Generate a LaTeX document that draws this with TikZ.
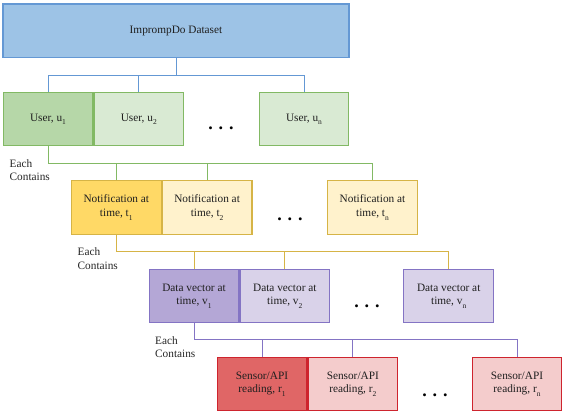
\documentclass[tikz,border=0pt]{standalone}
\usepackage{fontspec}
\setmainfont{Liberation Serif}
\usetikzlibrary{positioning}
\definecolor{topfill}{RGB}{157,195,230}
\definecolor{topline}{RGB}{100,152,212}
\definecolor{userdark}{RGB}{182,215,168}
\definecolor{userlight}{RGB}{217,234,211}
\definecolor{userline}{RGB}{130,185,100}
\definecolor{notidark}{RGB}{255,217,102}
\definecolor{notilight}{RGB}{255,242,204}
\definecolor{notiline}{RGB}{214,180,70}
\definecolor{datadark}{RGB}{180,167,214}
\definecolor{datalight}{RGB}{217,210,233}
\definecolor{dataline}{RGB}{132,116,196}
\definecolor{sensdark}{RGB}{224,102,102}
\definecolor{senslight}{RGB}{244,204,204}
\definecolor{sensline}{RGB}{206,36,46}
\tikzset{
  box/.style={draw, line width=1.1pt, minimum width=89.7pt, minimum height=53.5pt,
    inner sep=1pt, align=center, text=black!88, font=\fontsize{11.3}{13.7}\selectfont},
  userbox/.style={box, draw=userline, fill=userlight},
  notibox/.style={box, draw=notiline, fill=notilight},
  databox/.style={box, draw=dataline, fill=datalight},
  sensbox/.style={box, draw=sensline, fill=senslight},
  link/.style={line width=1pt},
  eachlbl/.style={anchor=west, align=left, inner sep=0pt, text=black!85,
    font=\fontsize{11.3}{13.7}\selectfont},
  more/.style={inner sep=0pt, font=\fontsize{18}{18}\selectfont\bfseries},
}
\newcommand{\sub}[1]{\raisebox{-0.3em}{\fontsize{7.5}{7.5}\selectfont #1}}

\begin{document}
\begin{tikzpicture}[x=1pt, y=-1pt]
  \useasboundingbox (0,0) rectangle (570,419);
  % dataset
  \node[box, draw=topline, fill=topfill, minimum width=346pt, minimum height=53.3pt]
    (top) at (176,30.7) {ImprompDo Dataset};
  % users
  \node[userbox, fill=userdark] (u1) at (48,119) {User, u\sub{1}};
  \node[userbox, right=0pt of u1] (u2) {User, u\sub{2}};
  \node[userbox] (un) at (304,119) {User, u\sub{n}};
  \node[more] (dotsu) at (221,128) {. . .};
  % notifications
  \node[notibox, fill=notidark] (t1) at (116.3,207.5) {Notification at\\time, t\sub{1}};
  \node[notibox, right=0pt of t1] (t2) {Notification at\\time, t\sub{2}};
  \node[notibox] (tn) at (372.5,207.5) {Notification at\\time, t\sub{n}};
  \node[more] (dotst) at (290,219) {. . .};
  % data vectors
  \node[databox, fill=datadark] (v1) at (194,296) {Data vector at\\time, v\sub{1}};
  \node[databox, right=0pt of v1] (v2) {Data vector at\\time, v\sub{2}};
  \node[databox] (vn) at (448.7,296) {Data vector at\\time, v\sub{n}};
  \node[more] (dotsv) at (367,306.7) {. . .};
  % sensor readings
  \node[sensbox, fill=sensdark] (r1) at (262,384) {Sensor/API\\reading, r\sub{1}};
  \node[sensbox, right=0pt of r1] (r2) {Sensor/API\\reading, r\sub{2}};
  \node[sensbox] (rn) at (517,384) {Sensor/API\\reading, r\sub{n}};
  \node[more] (dotsr) at (435,395) {. . .};
  % labels
  \node[eachlbl] (each1) at (9.5,170) {Each\\Contains};
  \node[eachlbl] (each2) at (77.5,258.3) {Each\\Contains};
  \node[eachlbl] (each3) at (155,347) {Each\\Contains};
  % connectors
  \coordinate (busu) at (0,75.3);
  \coordinate (bust) at (0,163.3);
  \coordinate (busv) at (0,251.7);
  \coordinate (busr) at (0,340);
  \draw[link, topline] (top.south) -- (top.south |- busu);
  \draw[link, topline] (u1.north) |- (un.north |- busu) -- (un.north);
  \draw[link, topline] (u2.north) -- (u2.north |- busu);
  \draw[link, userline] (u1.south) |- (tn.north |- bust) -- (tn.north);
  \draw[link, userline] (t1.north) -- (t1.north |- bust);
  \draw[link, userline] (t2.north) -- (t2.north |- bust);
  \draw[link, notiline] (t1.south) |- (vn.north |- busv) -- (vn.north);
  \draw[link, notiline] (v1.north) -- (v1.north |- busv);
  \draw[link, notiline] (v2.north) -- (v2.north |- busv);
  \draw[link, dataline] (v1.south) |- (rn.north |- busr) -- (rn.north);
  \draw[link, dataline] (r1.north) -- (r1.north |- busr);
  \draw[link, dataline] (r2.north) -- (r2.north |- busr);
\end{tikzpicture}
\end{document}
